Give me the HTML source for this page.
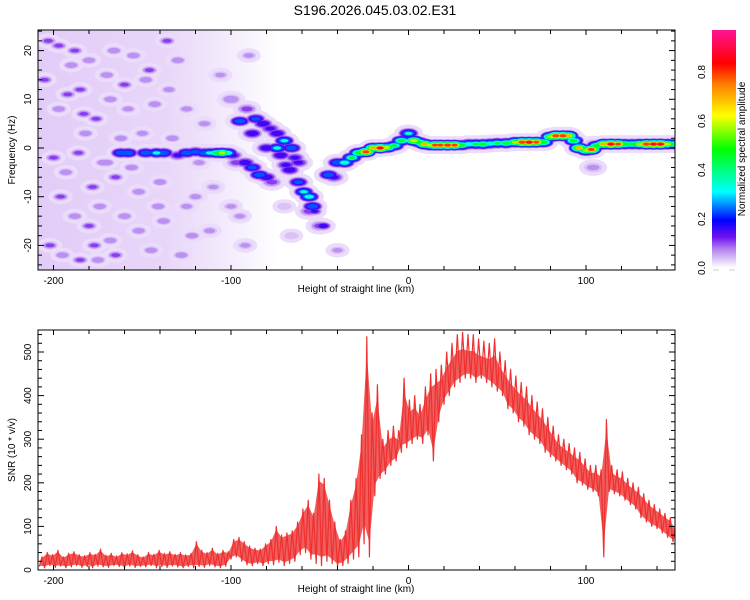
<!DOCTYPE html>
<html><head><meta charset="utf-8"><style>
html,body{margin:0;padding:0;background:#fff;}
svg{display:block;font-family:"Liberation Sans",sans-serif;}
</style></head><body>
<svg id="chart" width="750" height="600" viewBox="0 0 750 600">
<defs>
<clipPath id="clipTop"><rect x="38" y="30" width="637" height="240"/></clipPath>
<clipPath id="clipBot"><rect x="38" y="330" width="637" height="240"/></clipPath>
<linearGradient id="cbGrad" x1="0" y1="1" x2="0" y2="0">
<stop offset="0" stop-color="#ffffff"/><stop offset="0.03" stop-color="#e4d2f8"/><stop offset="0.08" stop-color="#b080f0"/>
<stop offset="0.13" stop-color="#7010f0"/><stop offset="0.2" stop-color="#0000ff"/><stop offset="0.32" stop-color="#00ffff"/>
<stop offset="0.5" stop-color="#00ff00"/><stop offset="0.64" stop-color="#ffff00"/><stop offset="0.77" stop-color="#ff8000"/>
<stop offset="0.86" stop-color="#ff0000"/><stop offset="1" stop-color="#ff1493"/>
</linearGradient>
<linearGradient id="noiseBg" x1="0" y1="0" x2="1" y2="0">
<stop offset="0" stop-color="#e2ccf8"/><stop offset="0.2" stop-color="#e8d6f9"/><stop offset="0.3" stop-color="#f4ecfc"/><stop offset="0.38" stop-color="#ffffff"/>
</linearGradient>
</defs>
<text x="375" y="15" text-anchor="middle" font-size="14" fill="#000">S196.2026.045.03.02.E31</text>
<g id="top">
<rect x="38" y="30" width="637" height="240" fill="url(#noiseBg)"/>
<g id="topMarks" clip-path="url(#clipTop)"></g>
<rect x="38" y="30" width="637" height="240" fill="none" stroke="#000" stroke-width="1"/>
<g id="topAxes"></g>
<text x="356" y="292" text-anchor="middle" font-size="10">Height of straight line (km)</text>
<text transform="translate(15,150) rotate(-90)" text-anchor="middle" font-size="10">Frequency (Hz)</text>
</g>
<g id="colorbar">
<rect x="712" y="30" width="24" height="238" fill="url(#cbGrad)"/>
<g id="cbTicks"></g>
<text transform="translate(745,149) rotate(-90)" text-anchor="middle" font-size="10">Normalized spectral amplitude</text>
</g>
<g id="bot">
<g id="botMarks" clip-path="url(#clipBot)"></g>
<rect x="38" y="330" width="637" height="240" fill="none" stroke="#000" stroke-width="1"/>
<g id="botAxes"></g>
<text x="356" y="592" text-anchor="middle" font-size="10">Height of straight line (km)</text>
<text transform="translate(15,450) rotate(-90)" text-anchor="middle" font-size="10">SNR (10 * v/v)</text>
</g>
</svg>
<script>
// ---- data ----
const ridgeX = [-162,-158,-148,-142,-138,-130,-125,-120,-115,-112,-108,-105,-102,-99,
 -97,-92,-88,-84,-80,-77,
 -100,-95,-91,-86,-82,-78,-74,-70,-66,-64,-62,
 -88,-80,-74,-72,-69,-67,-62,-59,-56,-54,-56,-50,
 -45,-42,-40,-36,-32,-28,-24,-20,-16,-12,-8,-4,0,3,6,9,12,15,18,22,26,30,34,38,42,46,50,55,60,64,68,72,76,80,83,87,90,93,96,100,103,106,110,114,118,122,126,130,134,138,142,146,150,104,104];
const ridgeF = [-1,-1,-1,-1,-1,-1.5,-1,-0.8,-1,-1,-1,-1,-1,-1.5,
 -3,-3,-4,-5.5,-6,-7,
 10,5.5,8,6,5,4,3,1.5,0,-2,-3,
 3,0,0,-1.5,-3.5,-4.5,-7,-9,-10,-12,-13,-16,
 -5.5,-6,-3,-3,-2,-1,-0.8,0,0,0.1,0.5,1.5,3,1.5,1.2,0.8,0.6,0.6,0.6,0.6,0.6,0.6,0.8,0.8,0.8,0.9,1,1,1.2,1.2,1.2,1.2,1.2,2.3,2.5,2.5,2.5,1.5,0,-0.5,-0.3,0.5,0.8,0.8,0.8,0.8,0.8,0.8,0.8,0.8,0.8,0.8,0.8,0.8,-4,-7];
const ridgeA = [0.3,0.3,0.3,0.35,0.3,0.15,0.3,0.25,0.3,0.35,0.5,0.6,0.4,0.15,
 0.1,0.2,0.25,0.3,0.2,0.1,
 0.08,0.3,0.1,0.25,0.2,0.15,0.2,0.35,0.3,0.15,0.15,
 0.2,0.2,0.35,0.2,0.15,0.2,0.25,0.35,0.4,0.3,0.1,0.1,
 0.3,0.15,0.3,0.4,0.45,0.55,0.85,0.7,0.9,0.6,0.45,0.5,0.35,0.65,0.5,0.7,0.6,0.8,0.8,0.85,0.8,0.5,0.4,0.45,0.5,0.4,0.45,0.5,0.6,0.85,0.9,0.8,0.55,0.6,0.85,0.85,0.7,0.5,0.7,0.6,0.85,0.5,0.75,0.9,0.8,0.55,0.5,0.6,0.85,0.9,0.9,0.6,0.5,0.05,0.05];
const noiseX = [-203,-197,-190,-185,-180,-176,-170,-166,-160,-155,-148,-143,-136,-130,-200,-193,-186,-178,-172,-165,-156,-196,-188,-180,-174,-168,-160,-152,-145,-138,-202,-195,-185,-175,-165,-128,-120,-115,-112,-106,-95,-92,-90,-70,-66,-53,-48,-40,-150,-140,-125,-118,-197,-182,-170,-158,-135,-125,-110,-100,-205,-192,-183,-162,-152,-146,-133,-122,-177,-188,-168,-141];
const noiseF = [22,21,17,12,18,6,15,20,13,19,14,9,22,18,-2,-5,-1,-8,-3,-6,-4,-10,-14,-16,-12,-19,-14,-17,-21,-15,-20,-22,-23,-23,-22,-22,-10,5,-17,15,-14,-20,19,-12,-18,-13,-16,-21,3,-7,8,-3,8,3,-3,8,12,-12,-8,-12,14,11,7,2,-9,16,2,-18,-20,20,10,-12];
const noiseA = [0.1,0.1,0.08,0.1,0.08,0.1,0.08,0.08,0.1,0.08,0.08,0.08,0.1,0.08,0.1,0.08,0.1,0.1,0.08,0.1,0.08,0.1,0.08,0.1,0.08,0.08,0.08,0.08,0.08,0.08,0.1,0.08,0.1,0.08,0.1,0.08,0.06,0.06,0.06,0.05,0.05,0.05,0.05,0.04,0.04,0.15,0.2,0.05,0.06,0.08,0.06,0.06,0.08,0.08,0.08,0.06,0.06,0.06,0.05,0.05,0.1,0.1,0.1,0.08,0.08,0.1,0.08,0.08,0.1,0.1,0.08,0.08];
const snrStart = -208, snrStep = 3;
const snrLow = [8,5,10,6,9,5,7,10,6,8,5,9,7,6,10,8,5,9,6,8,7,10,5,8,6,9,7,5,8,
 5,8,6,10,7,5,9,
 25,30,20,12,10,15,
 10,15,12,18,10,15,
 20,35,40,25,15,10,20,15,8,10,15,25,30,60,30,170,210,220,240,250,270,280,290,300,290,310,250,340,380,400,420,430,440,440,430,440,430,420,410,400,370,360,340,330,310,300,290,270,260,250,240,230,220,200,195,185,180,170,30,180,175,170,160,150,140,120,110,100,95,85,75,65];
const snrHigh = [30,40,35,45,30,38,42,35,33,40,36,48,34,38,32,40,37,44,35,30,40,36,45,38,42,36,40,35,38,
 65,45,40,50,38,45,42,
 70,75,65,55,50,48,
 60,70,100,80,85,90,
 110,140,160,130,220,210,160,110,70,90,160,210,310,535,360,425,300,320,330,320,440,390,400,380,420,450,460,470,500,520,540,545,540,540,530,525,520,530,500,480,460,445,430,420,400,385,370,350,330,310,300,290,280,270,255,240,240,230,345,240,230,225,210,200,190,175,160,150,140,130,120,100];
const xTickLabels = [-200,-100,0,100];
const freqTickLabels = [-20,-10,0,10,20];
const snrTickLabels = [0,100,200,300,400,500];
const cbTickLabels = [0.0,0.2,0.4,0.6,0.8];

// ---- axes ----
const NS='http://www.w3.org/2000/svg';
const xs = v => 408.5 + v*1.775;
const fy = f => 148 - f*4.87;
const sy = v => 570 - v*0.436;
const cy = a => 268 - a*245;
function mk(tag, parent, attrs){const e=document.createElementNS(NS,tag);for(const k in attrs)e.setAttribute(k,attrs[k]);parent.appendChild(e);return e;}

const stops=[[0,[255,255,255]],[0.03,[228,210,248]],[0.08,[176,128,240]],[0.13,[112,16,240]],[0.2,[0,0,255]],[0.32,[0,255,255]],[0.5,[0,255,0]],[0.64,[255,255,0]],[0.77,[255,128,0]],[0.86,[255,0,0]],[1,[255,20,147]]];
function cmap(v){for(let i=1;i<stops.length;i++){if(v<=stops[i][0]){const a=stops[i-1],b=stops[i];const t=(v-a[0])/(b[0]-a[0]);return 'rgb('+a[1].map((c,j)=>Math.round(c+(b[1][j]-c)*t)).join(',')+')';}}return 'rgb(255,20,147)';}

// ---- spectrogram blobs ----
const topMarks=document.getElementById('topMarks');
const levels=[0.01,0.02,0.05,0.09,0.14,0.22,0.32,0.45,0.58,0.7,0.8,0.88];
const pts=[];
for(let i=0;i<noiseX.length;i++)pts.push({x:noiseX[i],f:noiseF[i],a:noiseA[i],k:'noise'});
for(let i=0;i<ridgeX.length;i++)pts.push({x:ridgeX[i],f:ridgeF[i],a:ridgeA[i],k:'ridge'});
levels.forEach(L=>{
  pts.forEach(p=>{
    if(p.a<L)return;
    let frac=1-L/(p.a+0.04);
    const sc=p.k==='noise'?0.8:1;
    let rx=(2.5+8.5*frac)*sc, ry=(1.3+4.8*Math.pow(frac,1.4))*sc;
    if(L===0.01){rx+=4;ry+=3;}
    const el=mk('ellipse',topMarks,{cx:xs(p.x).toFixed(1),cy:fy(p.f).toFixed(1),rx:rx.toFixed(1),ry:ry.toFixed(1),fill:L===0.01?'#eadcfa':cmap(L+0.02)});
    
    
  });
});

// ---- SNR band + line ----
const botMarks=document.getElementById('botMarks');
let up='',dn='';
for(let i=0;i<snrLow.length;i++){
  const x=snrStart+i*snrStep;
  up+=(i?'L':'M')+xs(x+snrStep/2).toFixed(1)+','+sy(snrHigh[i]*0.93).toFixed(1);
}
for(let i=snrLow.length-1;i>=0;i--){
  const x=snrStart+i*snrStep;
  dn+='L'+xs(x).toFixed(1)+','+sy(snrLow[i]+(snrHigh[i]-snrLow[i])*0.1).toFixed(1);
}
const band=mk('path',botMarks,{d:up+dn+'Z',fill:'#ee3333','fill-opacity':'0.8',stroke:'none'});


let d='';
for(let i=0;i<snrLow.length;i++){
  const x=snrStart+i*snrStep;
  d+=(i?'L':'M')+xs(x).toFixed(1)+','+sy(snrLow[i]).toFixed(1)+'L'+xs(x+snrStep/2).toFixed(1)+','+sy(snrHigh[i]).toFixed(1);
}
const line=mk('path',botMarks,{d:d,fill:'none',stroke:'#ee3030','stroke-width':'1.2','stroke-linejoin':'round'});



// ---- ticks ----
function xAxis(g,top,bot){
  for(let v=-200;v<=140;v+=20){
    const X=xs(v),major=v%100===0,len=major?5:4;
    mk('line',g,{x1:X,x2:X,y1:bot,y2:bot-len,stroke:'#000'});
    mk('line',g,{x1:X,x2:X,y1:top,y2:top+len,stroke:'#000'});
  }
  xTickLabels.forEach(v=>{const t=mk('text',g,{x:xs(v),y:bot+14,'text-anchor':'middle','font-size':'10'});t.textContent=v;
    
    });
}
const topAxes=document.getElementById('topAxes');
xAxis(topAxes,30,270);
for(let f=-24;f<=24;f+=2){const Y=fy(f),len=f%10===0?6:4;
  mk('line',topAxes,{x1:38,x2:38+len,y1:Y,y2:Y,stroke:'#000'});
  mk('line',topAxes,{x1:675,x2:675-len,y1:Y,y2:Y,stroke:'#000'});}
freqTickLabels.forEach(f=>{const t=mk('text',topAxes,{transform:'translate(31,'+fy(f)+') rotate(-90)','text-anchor':'middle','font-size':'10'});t.textContent=f;
  
  });
const botAxes=document.getElementById('botAxes');
xAxis(botAxes,330,570);
for(let v=0;v<=540;v+=20){const Y=sy(v),len=v%100===0?6:4;
  mk('line',botAxes,{x1:38,x2:38+len,y1:Y,y2:Y,stroke:'#000'});
  mk('line',botAxes,{x1:675,x2:675-len,y1:Y,y2:Y,stroke:'#000'});}
snrTickLabels.forEach(v=>{const t=mk('text',botAxes,{transform:'translate(31,'+sy(v)+') rotate(-90)','text-anchor':'middle','font-size':'10'});t.textContent=v;
  
  });
const cbT=document.getElementById('cbTicks');
cbTickLabels.forEach(a=>{const t=mk('text',cbT,{transform:'translate(705,'+cy(a)+') rotate(-90)','text-anchor':'middle','font-size':'10'});t.textContent=a.toFixed(1);
  
  });
mk('line',cbT,{x1:713,x2:719,y1:270,y2:270,stroke:'#ccc'});
mk('line',cbT,{x1:729,x2:735,y1:270,y2:270,stroke:'#ccc'});
</script>
</body></html>
